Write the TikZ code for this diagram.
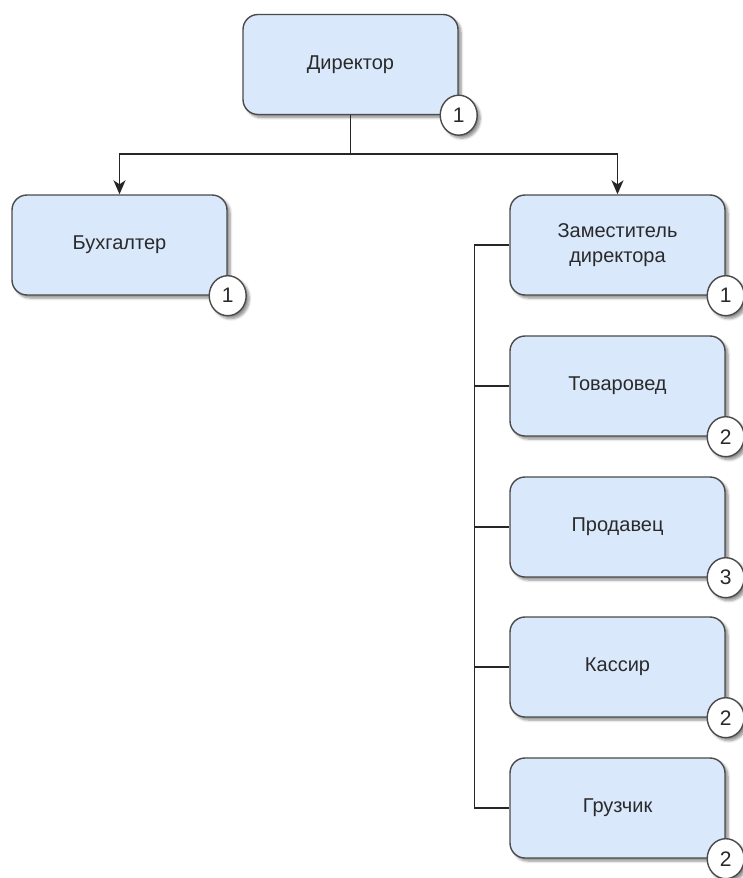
\documentclass[tikz,border=0pt]{standalone}
\usepackage{fontspec}
\setmainfont{Liberation Sans}
\usetikzlibrary{shadows.blur,arrows.meta,shapes.geometric}
\definecolor{boxfill}{HTML}{DAE8FC}
\definecolor{boxline}{HTML}{4A4A4A}
\definecolor{txt}{HTML}{2A2A2A}
\tikzset{
  post/.style={draw=boxline, line width=1.4pt, fill=boxfill, rounded corners=15pt,
    minimum width=215pt, minimum height=100pt, inner sep=0pt,
    align=center, text=txt, font=\fontsize{20}{25}\selectfont,
    blur shadow={shadow xshift=3pt, shadow yshift=-3pt, shadow blur steps=6,
      shadow blur radius=2.5pt, shadow opacity=45}},
  badge/.style={ellipse, draw=boxline, line width=1.4pt, fill=white,
    minimum width=37pt, minimum height=40pt, inner sep=0pt,
    text=txt, font=\fontsize{21}{22}\selectfont,
    blur shadow={shadow xshift=3pt, shadow yshift=-3pt, shadow blur steps=6,
      shadow blur radius=2.5pt, shadow opacity=45}},
  link/.style={draw=black!85, line width=1.5pt},
  arrowlink/.style={link, -{Stealth[length=14pt,width=12pt,inset=4pt]}}
}
\begin{document}
\begin{tikzpicture}[x=1pt,y=-1pt]
\useasboundingbox (0,0) rectangle (742,878);

% positions
\node[post] (dir)  at (350.5,64.5) {Директор};
\node[post] (buh)  at (119.5,245)  {Бухгалтер};
\node[post] (dep)  at (617.5,245)  {Заместитель\\директора};
\node[post] (tov)  at (617.5,386)  {Товаровед};
\node[post] (prod) at (617.5,527)  {Продавец};
\node[post] (kas)  at (617.5,667)  {Кассир};
\node[post] (gru)  at (617.5,808)  {Грузчик};

% connectors
\coordinate (bus) at (350.5,154);
\coordinate (spine) at (474.5,245);
\draw[link] (dir.south) -- (bus);
\draw[arrowlink] (bus) -| (buh.north);
\draw[arrowlink] (bus) -| (dep.north);
\draw[link] (dep.west) -- (spine) |- (gru.west);
\draw[link] (spine |- tov.west) -- (tov.west);
\draw[link] (spine |- prod.west) -- (prod.west);
\draw[link] (spine |- kas.west) -- (kas.west);

% counters at the lower right corners
\node[badge] (bdir)  at (dir.south east)  {1};
\node[badge] (bbuh)  at (buh.south east)  {1};
\node[badge] (bdep)  at (dep.south east)  {1};
\node[badge] (btov)  at (tov.south east)  {2};
\node[badge] (bprod) at (prod.south east) {3};
\node[badge] (bkas)  at (kas.south east)  {2};
\node[badge] (bgru)  at (gru.south east)  {2};
\end{tikzpicture}
\end{document}
